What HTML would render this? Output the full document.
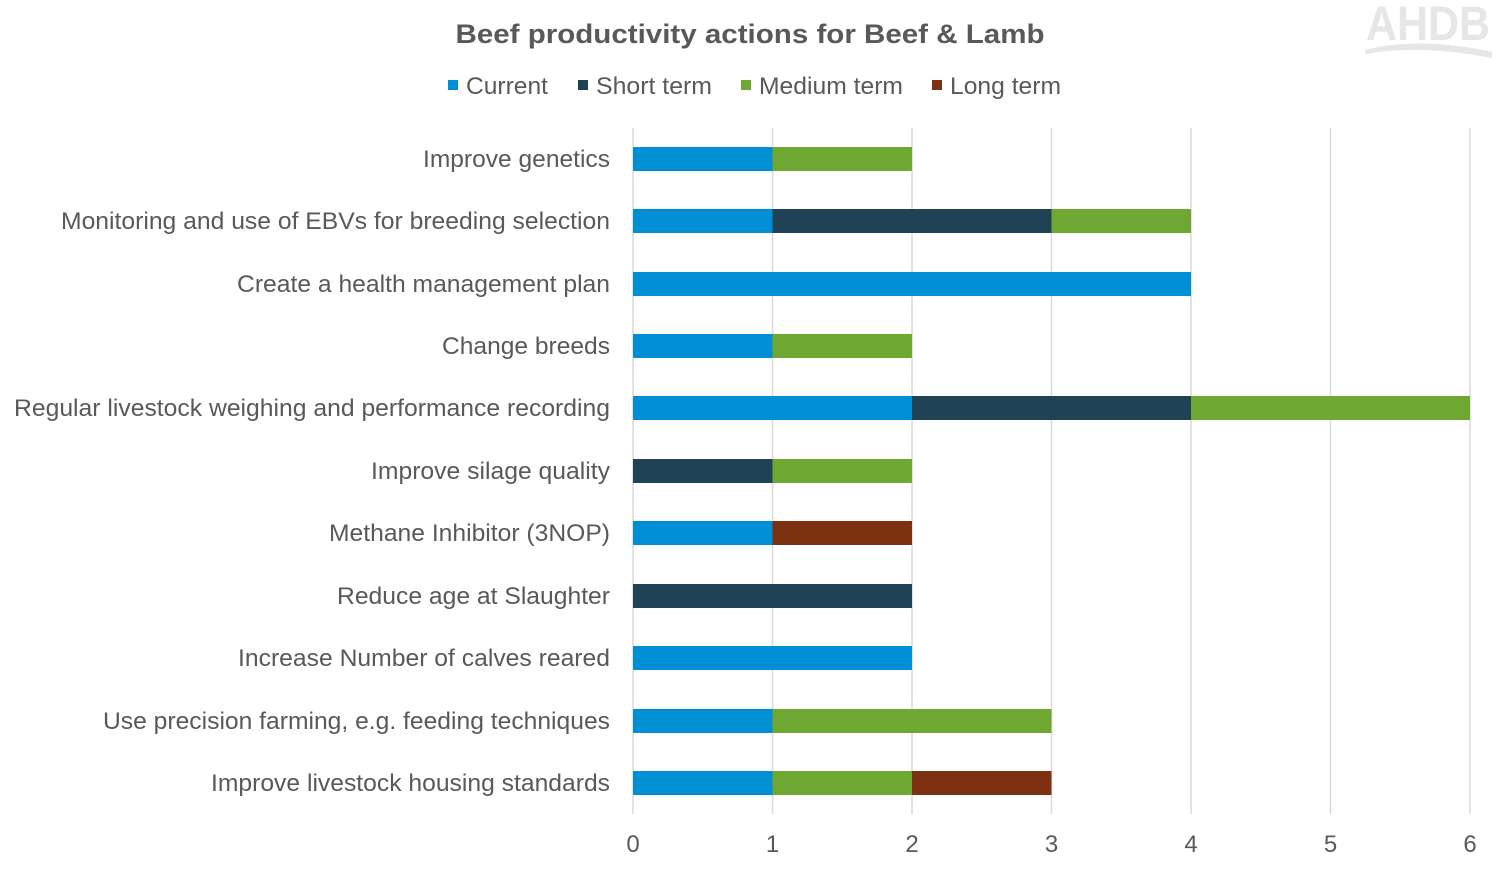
<!DOCTYPE html>
<html><head><meta charset="utf-8"><style>
html,body{margin:0;padding:0;background:#fff;}
svg{display:block;font-family:"Liberation Sans",Arial,sans-serif;}
</style></head><body>
<svg width="1500" height="871" viewBox="0 0 1500 871" xmlns="http://www.w3.org/2000/svg">
<rect width="1500" height="871" fill="#fff"/>
<text x="1428" y="40" font-size="48" font-weight="bold" fill="#e6e6e6" text-anchor="middle" textLength="124" lengthAdjust="spacingAndGlyphs">AHDB</text>
<path d="M1365 50 Q1420 36 1492 52 L1492 58 Q1420 44 1365 54 Z" fill="#e6e6e6"/>
<text x="750" y="43" font-size="27" font-weight="bold" fill="#595959" text-anchor="middle" textLength="589" lengthAdjust="spacingAndGlyphs">Beef productivity actions for Beef &amp; Lamb</text>
<g font-size="24" fill="#595959">
<rect x="448" y="80" width="10" height="10" fill="#008fd5"/><text x="466" y="94" textLength="82" lengthAdjust="spacingAndGlyphs">Current</text>
<rect x="578" y="80" width="10" height="10" fill="#1f4354"/><text x="596" y="94" textLength="116" lengthAdjust="spacingAndGlyphs">Short term</text>
<rect x="741" y="80" width="10" height="10" fill="#6ea832"/><text x="759" y="94" textLength="144" lengthAdjust="spacingAndGlyphs">Medium term</text>
<rect x="932" y="80" width="10" height="10" fill="#7e3110"/><text x="950" y="94" textLength="111" lengthAdjust="spacingAndGlyphs">Long term</text>
</g>
<g stroke="#d9d9d9" stroke-width="1.5">
<line x1="633" y1="128" x2="633" y2="814"/>
<line x1="772.5" y1="128" x2="772.5" y2="814"/>
<line x1="912" y1="128" x2="912" y2="814"/>
<line x1="1051.5" y1="128" x2="1051.5" y2="814"/>
<line x1="1191" y1="128" x2="1191" y2="814"/>
<line x1="1330.5" y1="128" x2="1330.5" y2="814"/>
<line x1="1470" y1="128" x2="1470" y2="814"/>
</g>
<g font-size="24" fill="#595959" text-anchor="middle">
<text x="633" y="852">0</text><text x="772.5" y="852">1</text><text x="912" y="852">2</text>
<text x="1051.5" y="852">3</text><text x="1191" y="852">4</text><text x="1330.5" y="852">5</text><text x="1470" y="852">6</text>
</g>
<g>
<rect x="633" y="147" width="139.5" height="24" fill="#008fd5"/>
<rect x="772.5" y="147" width="139.5" height="24" fill="#6ea832"/>
<rect x="633" y="209" width="139.5" height="24" fill="#008fd5"/>
<rect x="772.5" y="209" width="279" height="24" fill="#1f4354"/>
<rect x="1051.5" y="209" width="139.5" height="24" fill="#6ea832"/>
<rect x="633" y="272" width="558" height="24" fill="#008fd5"/>
<rect x="633" y="334" width="139.5" height="24" fill="#008fd5"/>
<rect x="772.5" y="334" width="139.5" height="24" fill="#6ea832"/>
<rect x="633" y="396" width="279" height="24" fill="#008fd5"/>
<rect x="912" y="396" width="279" height="24" fill="#1f4354"/>
<rect x="1191" y="396" width="279" height="24" fill="#6ea832"/>
<rect x="633" y="459" width="139.5" height="24" fill="#1f4354"/>
<rect x="772.5" y="459" width="139.5" height="24" fill="#6ea832"/>
<rect x="633" y="521" width="139.5" height="24" fill="#008fd5"/>
<rect x="772.5" y="521" width="139.5" height="24" fill="#7e3110"/>
<rect x="633" y="584" width="279" height="24" fill="#1f4354"/>
<rect x="633" y="646" width="279" height="24" fill="#008fd5"/>
<rect x="633" y="709" width="139.5" height="24" fill="#008fd5"/>
<rect x="772.5" y="709" width="279" height="24" fill="#6ea832"/>
<rect x="633" y="771" width="139.5" height="24" fill="#008fd5"/>
<rect x="772.5" y="771" width="139.5" height="24" fill="#6ea832"/>
<rect x="912" y="771" width="139.5" height="24" fill="#7e3110"/>
</g>
<g font-size="24" fill="#595959" text-anchor="end" lengthAdjust="spacingAndGlyphs">
<text x="610" y="167" textLength="187" lengthAdjust="spacingAndGlyphs">Improve genetics</text>
<text x="610" y="229" textLength="549" lengthAdjust="spacingAndGlyphs">Monitoring and use of EBVs for breeding selection</text>
<text x="610" y="292" textLength="373" lengthAdjust="spacingAndGlyphs">Create a health management plan</text>
<text x="610" y="354" textLength="168" lengthAdjust="spacingAndGlyphs">Change breeds</text>
<text x="610" y="416" textLength="596" lengthAdjust="spacingAndGlyphs">Regular livestock weighing and performance recording</text>
<text x="610" y="479" textLength="239" lengthAdjust="spacingAndGlyphs">Improve silage quality</text>
<text x="610" y="541" textLength="281" lengthAdjust="spacingAndGlyphs">Methane Inhibitor (3NOP)</text>
<text x="610" y="604" textLength="273" lengthAdjust="spacingAndGlyphs">Reduce age at Slaughter</text>
<text x="610" y="666" textLength="372" lengthAdjust="spacingAndGlyphs">Increase Number of calves reared</text>
<text x="610" y="729" textLength="507" lengthAdjust="spacingAndGlyphs">Use precision farming, e.g. feeding techniques</text>
<text x="610" y="791" textLength="399" lengthAdjust="spacingAndGlyphs">Improve livestock housing standards</text>
</g>
</svg>
</body></html>
